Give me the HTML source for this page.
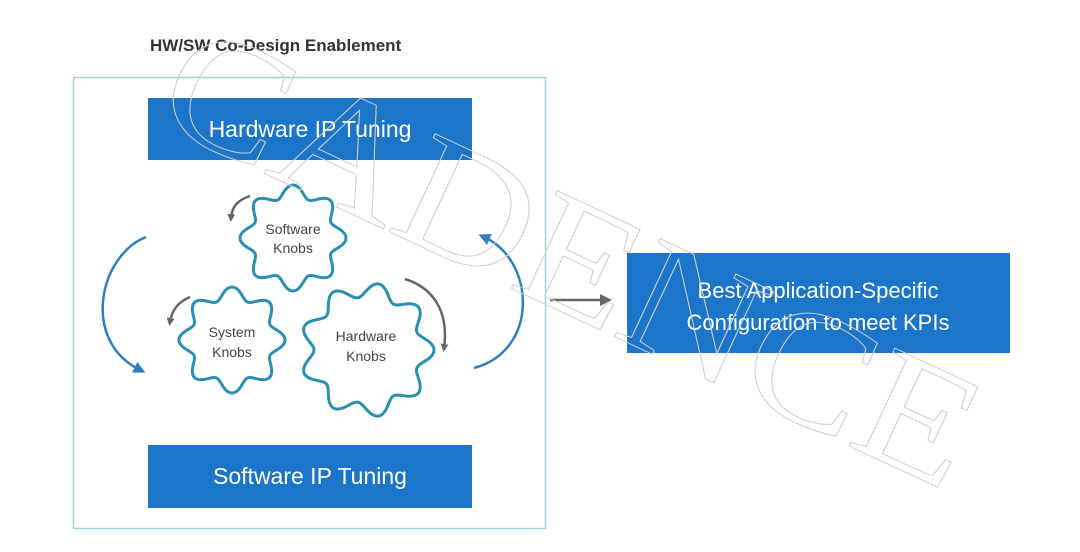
<!DOCTYPE html>
<html><head><style>
body{margin:0;width:1080px;height:552px;background:#fff;overflow:hidden;font-family:"Liberation Sans",sans-serif;}
svg{position:absolute;left:0;top:0}
</style></head><body>
<svg width="1080" height="552" viewBox="0 0 1080 552">
<defs>
<marker id="ag" markerWidth="8" markerHeight="8" refX="4" refY="4" orient="auto" markerUnits="userSpaceOnUse"><path d="M0,0 L8,4 L0,8 Z" fill="#666"/></marker>
<marker id="ab" markerWidth="12" markerHeight="12" refX="6" refY="6" orient="auto" markerUnits="userSpaceOnUse"><path d="M0,0 L12,6 L0,12 Z" fill="#2f7fc1"/></marker>
<marker id="ad" markerWidth="12" markerHeight="12" refX="6" refY="6" orient="auto" markerUnits="userSpaceOnUse"><path d="M0,0 L12,6 L0,12 Z" fill="#666"/></marker>
</defs>
<text x="150" y="51" font-size="17" font-weight="bold" fill="#333" font-family="Liberation Sans, sans-serif">HW/SW Co-Design Enablement</text>
<rect x="73.5" y="77.5" width="472" height="451" fill="none" stroke="#9fd3dc" stroke-width="1.5"/>
<rect x="148" y="98" width="324" height="62" fill="#1b75c8"/>
<text x="310" y="137" font-size="23" fill="#fff" text-anchor="middle">Hardware IP Tuning</text>
<rect x="148" y="445" width="324" height="63" fill="#1b75c8"/>
<text x="310" y="484" font-size="23" fill="#fff" text-anchor="middle">Software IP Tuning</text>
<rect x="627" y="253" width="383" height="100" fill="#1b75c8"/>
<text x="818" y="298" font-size="22" fill="#fff" text-anchor="middle">Best Application-Specific</text>
<text x="818" y="330" font-size="22" fill="#fff" text-anchor="middle">Configuration to meet KPIs</text>
<line x1="550" y1="300" x2="606" y2="300" stroke="#666" stroke-width="2.5" marker-end="url(#ad)"/>
<g id="gears" fill="#fff" stroke="#2a8fb0" stroke-width="3"></g>
<g font-size="14" fill="#444" text-anchor="middle">
<text x="293" y="234">Software</text><text x="293" y="253">Knobs</text>
<text x="232" y="337">System</text><text x="232" y="357">Knobs</text>
<text x="366" y="341">Hardware</text><text x="366" y="361">Knobs</text>
</g>
<g fill="none" stroke-width="2.5">
<path d="M146,237 C100,255 80,340 140,370" stroke="#2f7fc1" marker-end="url(#ab)"/>
<path d="M474,368 C540,350 535,260 484,237" stroke="#2f7fc1" marker-end="url(#ab)"/>
<path d="M250,196 C238,200 232,206 231,218" stroke="#666" marker-end="url(#ag)"/>
<path d="M190,297 C178,302 172,310 170,322" stroke="#666" marker-end="url(#ag)"/>
<path d="M405,279 C440,290 448,320 444,348" stroke="#666" marker-end="url(#ag)"/>
</g>
<text x="0" y="0" font-family="Liberation Serif, serif" font-size="165" fill="none" stroke="#cfcfcf" stroke-width="1" textLength="880" lengthAdjust="spacingAndGlyphs" transform="translate(150,120) rotate(25)">CADENCE</text>
</svg>
<script>
function gear(cx,cy,R,a,n){var d='';for(var i=0;i<=360;i++){var t=i*Math.PI/180;var r=R+a*Math.cos(n*t);d+=(i?'L':'M')+(cx+r*Math.cos(t)).toFixed(1)+','+(cy+r*Math.sin(t)).toFixed(1);}return d+'Z';}
var g=document.getElementById('gears');
[[293,238,47,6,8],[232,340,47,6,8],[367,350,60,7,9]].forEach(function(p){var e=document.createElementNS('http://www.w3.org/2000/svg','path');e.setAttribute('d',gear.apply(null,p));g.appendChild(e);});
</script>
</body></html>
